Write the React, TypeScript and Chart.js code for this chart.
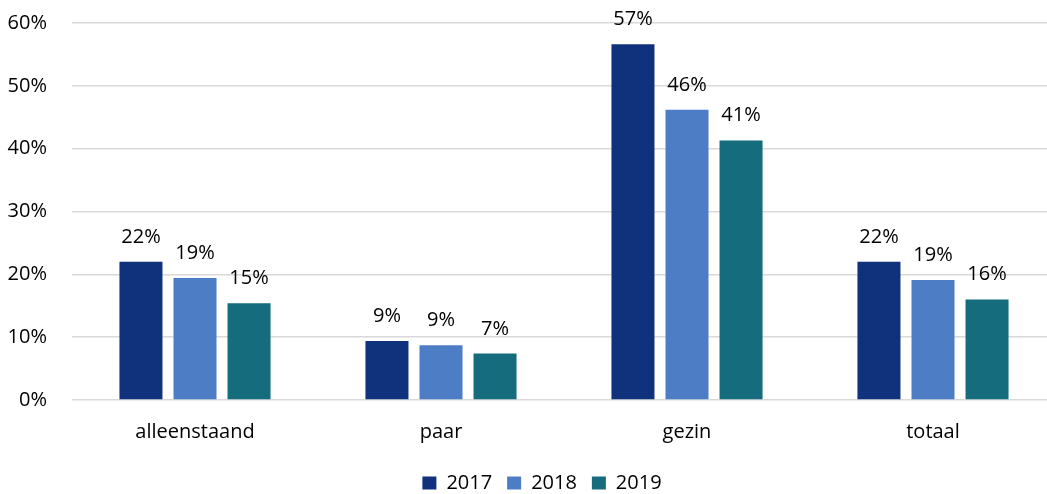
import React, { useEffect, useRef } from "react";
import { Chart, registerables } from "chart.js";

Chart.register(...registerables);

const categories = ["alleenstaand", "paar", "gezin", "totaal"];
const years = ["2017", "2018", "2019"];
const values2017 = [22.0, 9.4, 56.6, 22.0];
const values2018 = [19.4, 8.7, 46.2, 19.1];
const values2019 = [15.4, 7.4, 41.3, 16.0];
const colors = ["#10317B", "#4C7DC5", "#146C7C"];
const yTicks = [0, 10, 20, 30, 40, 50, 60];

const FONT = "'Open Sans', sans-serif";
const FS = 20;

const valueLabels = {
  id: "valueLabels",
  afterDatasetsDraw(chart: any) {
    const ctx = chart.ctx;
    ctx.save();
    ctx.font = `${FS}px ${FONT}`;
    ctx.fillStyle = "#000";
    ctx.textAlign = "center";
    ctx.textBaseline = "alphabetic";
    chart.data.datasets.forEach((ds: any, di: number) => {
      const meta = chart.getDatasetMeta(di);
      meta.data.forEach((bar: any, i: number) => {
        ctx.fillText(Math.round(ds.data[i]) + "%", bar.x, bar.y - 19);
      });
    });
    ctx.restore();
  },
};

const legendShift = {
  id: "legendShift",
  afterLayout(chart: any) {
    if (chart.legend) {
      chart.legend.left += 14;
      chart.legend.right += 14;
    }
  },
};

export default function App() {
  const ref = useRef<HTMLCanvasElement>(null);
  useEffect(() => {
    if (!ref.current) return;
    const series = [values2017, values2018, values2019];
    const chart = new Chart(ref.current, {
      type: "bar",
      data: {
        labels: categories,
        datasets: years.map((y, i) => ({
          label: y,
          data: series[i],
          backgroundColor: colors[i],
          borderWidth: 0,
          categoryPercentage: 0.659,
          barPercentage: 0.796,
        })),
      },
      options: {
        responsive: false,
        animation: false,
        devicePixelRatio: 1,
        layout: { padding: { top: 0, right: 0, bottom: -9, left: 0 } },
        plugins: {
          legend: {
            position: "bottom",
            labels: {
              font: { family: FONT, size: FS },
              color: "#000",
              boxWidth: 14,
              boxHeight: 13,
              padding: 15,
            },
          },
          tooltip: { enabled: false },
        },
        scales: {
          x: {
            afterFit: (s: any) => { s.height = 58; },
            grid: { display: false, drawTicks: false },
            border: { display: false },
            ticks: { font: { family: FONT, size: FS }, color: "#000", padding: 20 },
          },
          y: {
            min: 0,
            max: 60,
            afterFit: (s: any) => { s.width = 72; s.paddingTop = 23; s.paddingBottom = 0; },
            afterBuildTicks: (s: any) => { s.ticks = yTicks.map((v) => ({ value: v })); },
            grid: { color: "#D9D9D9", lineWidth: 1.5, drawTicks: false },
            border: { display: false },
            ticks: {
              font: { family: FONT, size: FS },
              color: "#000",
              padding: 25,
              callback: (v: any) => v + "%",
            },
          },
        },
      },
      plugins: [valueLabels, legendShift],
    });
    return () => chart.destroy();
  }, []);
  return (
    <div style={{ position: "fixed", left: 0, top: 0, width: 1047, height: 494, overflow: "hidden", background: "#fff" }}>
      <canvas ref={ref} width={1056} height={494} />
    </div>
  );
}
